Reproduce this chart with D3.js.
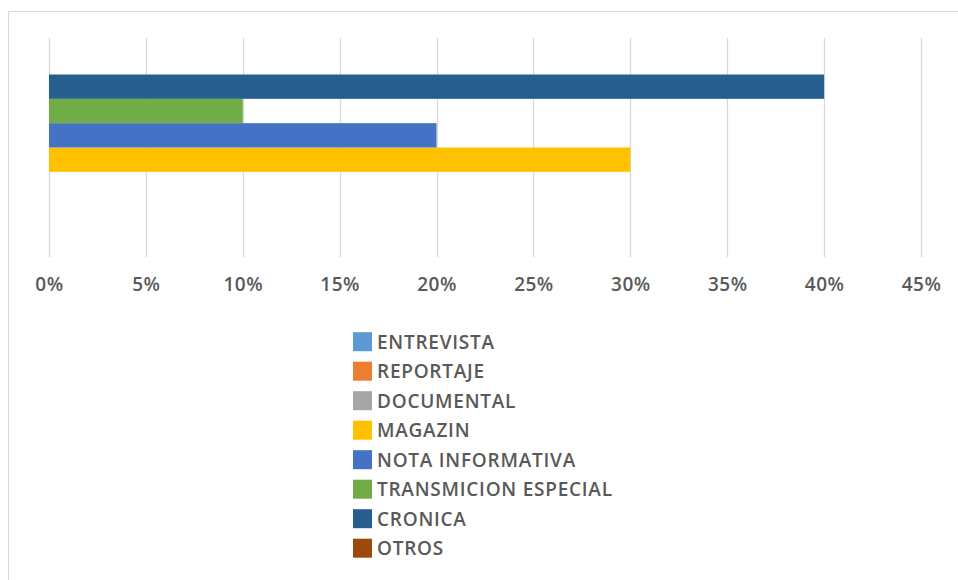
<!DOCTYPE html>
<html>
<head>
<meta charset="utf-8">
<script src="https://cdn.jsdelivr.net/npm/d3@7/dist/d3.min.js"></script>
<style>
  html, body { margin: 0; padding: 0; background: #fff; }
  svg { display: block; }
</style>
</head>
<body>
<svg id="chart" width="958" height="580"></svg>
<script>
const seriesNames = ["ENTREVISTA", "REPORTAJE", "DOCUMENTAL", "MAGAZIN", "NOTA INFORMATIVA", "TRANSMICION ESPECIAL", "CRONICA", "OTROS"];
const seriesValues = [0, 0, 0, 0.30, 0.20, 0.10, 0.40, 0];
const seriesColors = ["#5B9BD5", "#ED7D31", "#A5A5A5", "#FFC000", "#4472C4", "#70AD47", "#265E8F", "#9E480E"];
const tickValues = [0, 0.05, 0.10, 0.15, 0.20, 0.25, 0.30, 0.35, 0.40, 0.45];
const categories = [""];

const svg = d3.select("#chart");
const font = "'Open Sans', 'DejaVu Sans', sans-serif";
const textColor = "#595959";

// chart frame (left and top edges visible)
svg.append("line").attr("x1", 8.5).attr("x2", 8.5).attr("y1", 11).attr("y2", 580)
  .attr("stroke", "#d9d9d9").attr("stroke-width", 1);
svg.append("line").attr("x1", 8).attr("x2", 958).attr("y1", 11.5).attr("y2", 11.5)
  .attr("stroke", "#d9d9d9").attr("stroke-width", 1);

const plotTop = 38, plotBottom = 257;
const x = d3.scaleLinear().domain([0, 0.45]).range([49, 921]);

const yCat = d3.scaleBand().domain(categories).range([plotTop, plotBottom])
  .paddingInner(0).paddingOuter(0.0625);
// Excel horizontal bars: first series at bottom
const ySer = d3.scaleBand().domain(seriesNames.slice().reverse()).range([0, yCat.bandwidth()]);

// gridlines
svg.append("g").selectAll("line").data(tickValues).join("line")
  .attr("x1", d => Math.round(x(d)) + 0.5).attr("x2", d => Math.round(x(d)) + 0.5)
  .attr("y1", plotTop).attr("y2", plotBottom)
  .attr("stroke", "#d9d9d9").attr("stroke-width", 1.3);

// bars
const data = seriesNames.map((s, i) => ({ name: s, value: seriesValues[i], color: seriesColors[i] }));
svg.append("g").selectAll("rect").data(data).join("rect")
  .attr("x", x(0))
  .attr("y", d => yCat("") + ySer(d.name))
  .attr("width", d => x(d.value) - x(0))
  .attr("height", ySer.bandwidth())
  .attr("fill", d => d.color);

// axis
const axis = d3.axisBottom(x).tickValues(tickValues).tickFormat(d3.format(".0%")).tickSize(0).tickPadding(0);
const gAxis = svg.append("g").attr("transform", `translate(0, 277)`).call(axis);
gAxis.select(".domain").remove();
gAxis.selectAll("text")
  .attr("dy", "0.71em")
  .attr("fill", textColor)
  .style("font-family", font)
  .style("font-size", "19px")
  .style("font-weight", "600")
  .style("letter-spacing", "0.5px");

// legend
const legendTop = 341.7, legendStep = 29.5;
const lg = svg.append("g").selectAll("g").data(data).join("g")
  .attr("transform", (d, i) => `translate(353, ${legendTop + i * legendStep})`);
lg.append("rect").attr("x", 0).attr("y", -9.5).attr("width", 19).attr("height", 19)
  .attr("fill", d => d.color);
lg.append("text").attr("x", 24).attr("y", 0).attr("dy", "0.36em")
  .attr("fill", textColor)
  .style("font-family", font)
  .style("font-size", "19px")
  .style("font-weight", "600")
  .style("letter-spacing", "0.75px")
  .text(d => d.name);
</script>
</body>
</html>
